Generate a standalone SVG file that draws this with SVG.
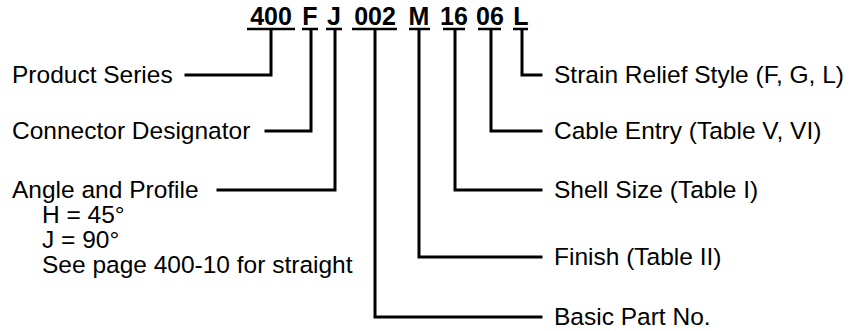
<svg xmlns="http://www.w3.org/2000/svg" width="857" height="331" viewBox="0 0 857 331">
<style>
.lbl{font-family:"Liberation Sans",Arial,Helvetica,sans-serif;font-size:24.5px;fill:#000}
.code{font-family:"Liberation Sans",Arial,Helvetica,sans-serif;font-size:25px;font-weight:bold;fill:#000;text-anchor:middle}
.ln{fill:none;stroke:#000;stroke-width:3;stroke-linecap:square}
.ul{fill:none;stroke:#000;stroke-width:2.5}
</style>
<rect width="857" height="331" fill="#fff"/>
<g id="code">
<text class="code" x="271" y="25">400</text>
<text class="code" x="310" y="25">F</text>
<text class="code" x="334" y="25">J</text>
<text class="code" x="375" y="25">002</text>
<text class="code" x="419" y="25">M</text>
<text class="code" x="454" y="25">16</text>
<text class="code" x="490" y="25">06</text>
<text class="code" x="521" y="25">L</text>
<path class="ul" d="M247 29H295M302 29H318M326 29H342M352 29H397M409 29H430M443 29H465M478 29H501M513 29H528"/>
</g>
<g id="product-series"><text class="lbl" x="12" y="83">Product Series</text></g>
<g id="connector-designator"><text class="lbl" x="12" y="139">Connector Designator</text></g>
<g id="angle-profile">
<text class="lbl" x="12" y="198">Angle and Profile</text>
<text class="lbl" x="42" y="223">H = 45°</text>
<text class="lbl" x="42" y="248">J = 90°</text>
<text class="lbl" x="42" y="273">See page 400-10 for straight</text>
</g>
<g id="strain-relief"><text class="lbl" x="554" y="83">Strain Relief Style (F, G, L)</text></g>
<g id="cable-entry"><text class="lbl" x="554" y="139">Cable Entry (Table V, VI)</text></g>
<g id="shell-size"><text class="lbl" x="554" y="198">Shell Size (Table I)</text></g>
<g id="finish"><text class="lbl" x="554" y="265">Finish (Table II)</text></g>
<g id="basic-part"><text class="lbl" x="554" y="325">Basic Part No.</text></g>
<g id="connectors">
<path class="ln" d="M271 30V75H186"/>
<path class="ln" d="M311 30V131H266"/>
<path class="ln" d="M335 30V190H218"/>
<path class="ln" d="M375 30V317H541"/>
<path class="ln" d="M419 30V257H541"/>
<path class="ln" d="M455 30V190H541"/>
<path class="ln" d="M491 30V131H541"/>
<path class="ln" d="M522 30V75H541"/>
</g>
</svg>
